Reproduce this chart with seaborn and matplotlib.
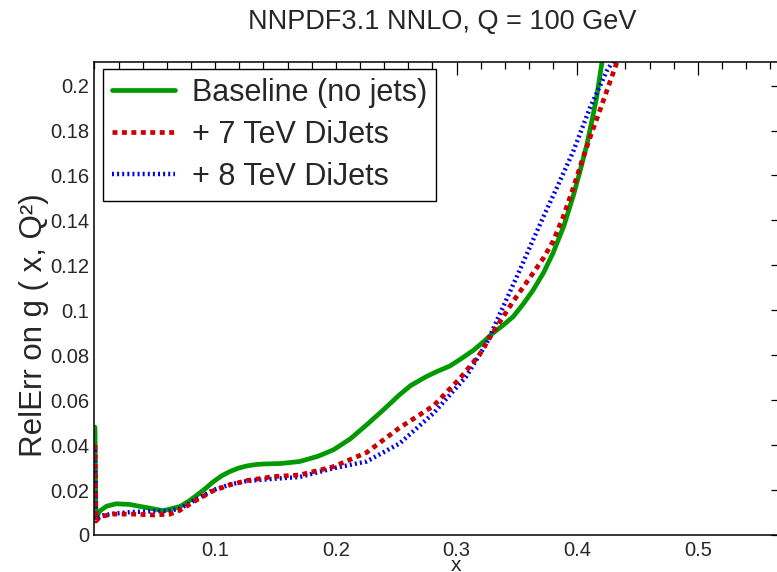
import matplotlib

matplotlib.use("Agg")

import matplotlib.pyplot as plt
import seaborn as sns
from matplotlib.ticker import FixedLocator, FuncFormatter, MultipleLocator


TITLE = "NNPDF3.1 NNLO, Q = 100 GeV"
X_LABEL = "x"
Y_LABEL = "RelErr on g ( x, Q²)"

LABEL_BASELINE = "Baseline (no jets)"
LABEL_7TEV = "+ 7 TeV DiJets"
LABEL_8TEV = "+ 8 TeV DiJets"

X_BASELINE = [0.0004, 0.0012, 0.0046, 0.010, 0.018, 0.029, 0.043, 0.057,
              0.071, 0.078, 0.085, 0.092, 0.098, 0.105, 0.112, 0.119,
              0.126, 0.133, 0.140, 0.154, 0.170, 0.185, 0.198, 0.212,
              0.2255, 0.240, 0.253, 0.262, 0.275, 0.284, 0.2945, 0.304,
              0.314, 0.322, 0.330, 0.339, 0.347, 0.355, 0.3635, 0.372,
              0.380, 0.389, 0.397, 0.4025, 0.408, 0.412, 0.416, 0.421]
Y_BASELINE = [0.048, 0.0075, 0.0108, 0.0128, 0.0139, 0.0136, 0.0122, 0.0108,
              0.0127, 0.0150, 0.0178, 0.0207, 0.0235, 0.0262, 0.0282, 0.0297,
              0.0307, 0.0313, 0.0316, 0.0318, 0.0327, 0.0350, 0.0379, 0.0428,
              0.049, 0.0560, 0.0625, 0.0665, 0.0705, 0.0728, 0.0752, 0.0785,
              0.0822, 0.0858, 0.0898, 0.0935, 0.0972, 0.1026, 0.109, 0.1166,
              0.1255, 0.1376, 0.1514, 0.1622, 0.1737, 0.1838, 0.1945, 0.212]

X_7TEV = [0.0004, 0.0012, 0.0046, 0.0156, 0.032, 0.0487, 0.0626, 0.0708,
          0.0847, 0.0984, 0.1123, 0.126, 0.148, 0.170, 0.198, 0.2255,
          0.253, 0.281, 0.303, 0.319, 0.330, 0.347, 0.3635, 0.372,
          0.380, 0.388, 0.3967, 0.404, 0.4105, 0.418, 0.4244, 0.433]
Y_7TEV = [0.040, 0.0062, 0.0082, 0.0093, 0.0093, 0.0089, 0.0093, 0.0110,
          0.0156, 0.0197, 0.0223, 0.0242, 0.026, 0.0267, 0.0304, 0.0367,
          0.0478, 0.0575, 0.0698, 0.0802, 0.090, 0.104, 0.1166, 0.1232,
          0.1307, 0.141, 0.1544, 0.1665, 0.1767, 0.1878, 0.1975, 0.2105]

X_8TEV = [0.0004, 0.0012, 0.005, 0.016, 0.03, 0.05, 0.0626, 0.0708,
          0.0847, 0.0984, 0.1123, 0.126, 0.148, 0.170, 0.198, 0.2255,
          0.253, 0.281, 0.308, 0.325, 0.336, 0.350, 0.3635, 0.373,
          0.383, 0.3967, 0.4105, 0.4244, 0.431]
Y_8TEV = [0.040, 0.007, 0.0085, 0.0095, 0.0102, 0.0106, 0.0108, 0.0118,
          0.016, 0.020, 0.0225, 0.024, 0.025, 0.0258, 0.0297, 0.0327,
          0.0408, 0.0542, 0.0705, 0.0854, 0.0985, 0.115, 0.1314, 0.1428,
          0.1544, 0.1707, 0.190, 0.2064, 0.212]

X_TICKS = [0.1, 0.2, 0.3, 0.4, 0.5]

GREEN = "#009a00"
RED = "#cc0000"
BLUE = "#0000ee"


def main() -> None:
    sns.set_style("white")
    plt.rcParams["font.family"] = ["Liberation Sans", "DejaVu Sans"]

    fig = plt.figure(figsize=(7.77, 5.72), dpi=100)
    # axes run past the right border of the canvas, as in the original crop
    ax = fig.add_axes([0.1216, 0.0647, 0.8977, 0.8269])

    sns.lineplot(x=X_BASELINE, y=Y_BASELINE, ax=ax, color=GREEN,
                 linewidth=3.4, estimator=None, sort=False,
                 label=LABEL_BASELINE)
    sns.lineplot(x=X_8TEV, y=Y_8TEV, ax=ax, color=BLUE,
                 linewidth=3.2, linestyle=(0, (0.45, 0.7)),
                 estimator=None, sort=False, label=LABEL_8TEV)
    sns.lineplot(x=X_7TEV, y=Y_7TEV, ax=ax, color=RED,
                 linewidth=3.4, linestyle=(0, (1.05, 0.95)),
                 estimator=None, sort=False, label=LABEL_7TEV)

    ax.set_xlim(0, 0.578)
    ax.set_ylim(0, 0.2105)

    ax.xaxis.set_major_locator(FixedLocator(X_TICKS))
    ax.xaxis.set_minor_locator(MultipleLocator(0.02))
    ax.yaxis.set_major_locator(MultipleLocator(0.02))
    ax.yaxis.set_minor_locator(MultipleLocator(0.004))
    ax.xaxis.set_major_formatter(FuncFormatter(lambda v, _: f"{v:g}"))
    ax.yaxis.set_major_formatter(FuncFormatter(lambda v, _: f"{v:g}"))

    ax.tick_params(which="both", direction="in", top=True, right=True,
                   width=0.9, color="black", labelsize=14.5)
    ax.tick_params(axis="x", which="major", length=9.5, pad=4)
    ax.tick_params(axis="x", which="minor", length=5)
    ax.tick_params(axis="y", which="major", length=15, pad=3.5)
    ax.tick_params(axis="y", which="minor", length=7.5)

    for spine in ax.spines.values():
        spine.set_color("black")
        spine.set_linewidth(1.1)

    ax.set_xlabel(X_LABEL, fontsize=15, va="center")
    ax.xaxis.set_label_coords(0.3 / 0.578, -0.064)
    ax.set_ylabel(Y_LABEL, fontsize=22.5, va="center")
    ax.yaxis.set_label_coords(-0.087, 0.443)

    fig.text(0.569, 1 - 22 / 572, TITLE, ha="center", va="center",
             fontsize=19.5)

    handles, labels = ax.get_legend_handles_labels()
    order = [labels.index(LABEL_BASELINE), labels.index(LABEL_7TEV),
             labels.index(LABEL_8TEV)]
    legend = ax.legend(
        [handles[i] for i in order],
        [labels[i] for i in order],
        loc="upper left",
        bbox_to_anchor=(103 / 777, 1 - 69 / 572),
        bbox_transform=fig.transFigure,
        fontsize=22,
        frameon=True,
        fancybox=False,
        framealpha=1,
        edgecolor="black",
        handlelength=2.05,
        handletextpad=0.55,
        labelspacing=0.385,
        borderpad=0.3,
        borderaxespad=0,
    )
    legend.get_frame().set_linewidth(1.0)

    fig.savefig("out.png", dpi=100)
    plt.close(fig)


if __name__ == "__main__":
    main()
